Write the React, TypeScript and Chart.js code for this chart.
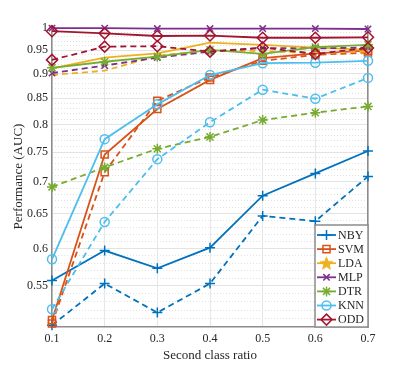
import React, { useEffect, useRef } from 'react';
import { Chart, registerables } from 'chart.js';
import { drawPoint } from 'chart.js/helpers';

Chart.register(...registerables);

// ---------- data ----------
const RATIOS = [0.1, 0.2, 0.3, 0.4, 0.5, 0.6, 0.7];
const X_TICK_LABELS = ['0.1', '0.2', '0.3', '0.4', '0.5', '0.6', '0.7'];
const Y_TICKS = [0.55, 0.6, 0.65, 0.7, 0.75, 0.8, 0.85, 0.9, 0.95, 1];
const Y_TICK_LABELS = ['0.55', '0.6', '0.65', '0.7', '0.75', '0.8', '0.85', '0.9', '0.95', '1'];
const METHODS = ['NBY', 'SVM', 'LDA', 'MLP', 'DTR', 'KNN', 'ODD'];

const NBY_SOLID = [0.557, 0.597, 0.573, 0.601, 0.678, 0.714, 0.752];
const NBY_DASHED = [0.502, 0.553, 0.517, 0.553, 0.647, 0.639, 0.709];
const SVM_SOLID = [0.508, 0.746, 0.829, 0.887, 0.933, 0.943, 0.949];
const SVM_DASHED = [0.504, 0.716, 0.845, 0.892, 0.927, 0.94, 0.945];
const LDA_SOLID = [0.911, 0.934, 0.943, 0.967, 0.962, 0.956, 0.951];
const LDA_DASHED = [0.897, 0.906, 0.938, 0.95, 0.948, 0.944, 0.947];
const MLP_SOLID = [1.0, 1.0, 0.999, 0.999, 0.999, 0.999, 0.998];
const MLP_DASHED = [0.901, 0.917, 0.934, 0.947, 0.955, 0.954, 0.956];
const DTR_SOLID = [0.912, 0.925, 0.936, 0.951, 0.942, 0.957, 0.962];
const DTR_DASHED = [0.692, 0.724, 0.756, 0.777, 0.808, 0.822, 0.834];
const KNN_SOLID = [0.585, 0.773, 0.838, 0.897, 0.922, 0.923, 0.927];
const KNN_DASHED = [0.521, 0.638, 0.738, 0.804, 0.867, 0.849, 0.891];
const ODD_SOLID = [0.993, 0.988, 0.982, 0.983, 0.978, 0.978, 0.979];
const ODD_DASHED = [0.929, 0.958, 0.959, 0.947, 0.956, 0.942, 0.955];

const SOLID = [NBY_SOLID, SVM_SOLID, LDA_SOLID, MLP_SOLID, DTR_SOLID, KNN_SOLID, ODD_SOLID];
const DASHED = [NBY_DASHED, SVM_DASHED, LDA_DASHED, MLP_DASHED, DTR_DASHED, KNN_DASHED, ODD_DASHED];

// ---------- styles ----------
const COLORS = ['#0072BD', '#D95319', '#EDB120', '#7E2F8E', '#77AC30', '#4DBEEE', '#A2142F'];
const RADII = [5, 5, 0, 4.5, 5, 4.5, 5.5];
const FONT = "'Liberation Serif', 'Times New Roman', serif";
const TEXT = '#262626';
const AXIS = '#8c8c8c';

function makeStar(color: string) {
  const c = document.createElement('canvas');
  c.width = 15;
  c.height = 15;
  const g = c.getContext('2d')!;
  g.beginPath();
  for (let i = 0; i < 10; i++) {
    const r = i % 2 === 0 ? 6.6 : 2.8;
    const a = -Math.PI / 2 + (i * Math.PI) / 5;
    g.lineTo(7.5 + r * Math.cos(a), 8 + r * Math.sin(a));
  }
  g.closePath();
  g.fillStyle = color;
  g.fill();
  g.strokeStyle = color;
  g.lineWidth = 1;
  g.stroke();
  return c;
}

export default function App() {
  const ref = useRef<HTMLCanvasElement>(null);

  useEffect(() => {
    document.body.style.margin = '0';
    const star = makeStar(COLORS[2]);
    const styles: any[] = ['cross', 'rect', star, 'crossRot', 'star', 'circle', 'rectRot'];
    const hollow = [false, true, false, false, false, true, true];

    const datasets: any[] = [];
    let k = 0;
    for (let m = 0; m < METHODS.length; m++) {
      for (const dashed of [false, true]) {
        const arr = dashed ? DASHED[m] : SOLID[m];
        datasets.push({
          label: METHODS[m] + (dashed ? ' (dashed)' : ''),
          data: RATIOS.map((x, i) => ({ x, y: arr[i] })),
          borderColor: COLORS[m],
          backgroundColor: COLORS[m],
          borderWidth: 1.8,
          borderDash: dashed ? [6, 4] : [],
          pointStyle: styles[m],
          pointRadius: RADII[m],
          pointBorderWidth: 1.5,
          pointBorderColor: COLORS[m],
          pointBackgroundColor: hollow[m] ? 'rgba(0,0,0,0)' : COLORS[m],
          tension: 0,
          fill: false,
          clip: false,
          order: 100 - k,
        });
        k++;
      }
    }

    const minorTicks: number[] = [];
    for (let i = 51; i <= 100; i++) minorTicks.push(i / 100);

    const legendPlugin = {
      id: 'insideLegend',
      afterDraw(chart: any) {
        const { ctx, chartArea } = chart;
        const w = 53;
        const h = 102;
        const right = chartArea.right;
        const bottom = chartArea.bottom;
        const left = right - w;
        const top = bottom - h;
        ctx.save();
        ctx.fillStyle = '#ffffff';
        ctx.fillRect(left, top, w, h);
        ctx.strokeStyle = AXIS;
        ctx.lineWidth = 1.5;
        ctx.strokeRect(left, top, w, h);
        ctx.font = `12px ${FONT}`;
        ctx.textBaseline = 'middle';
        ctx.textAlign = 'left';
        for (let m = 0; m < METHODS.length; m++) {
          const y = top + 10 + m * 14.1;
          ctx.strokeStyle = COLORS[m];
          ctx.lineWidth = 1.8;
          ctx.setLineDash([]);
          ctx.beginPath();
          ctx.moveTo(left + 2, y);
          ctx.lineTo(left + 21, y);
          ctx.stroke();
          ctx.fillStyle = hollow[m] ? 'rgba(0,0,0,0)' : COLORS[m];
          ctx.lineWidth = 1.5;
          drawPoint(ctx, { pointStyle: styles[m], radius: RADII[m], borderWidth: 1.5, rotation: 0 } as any, left + 11.5, y);
          ctx.fillStyle = TEXT;
          ctx.fillText(METHODS[m], left + 23, y + 0.5);
        }
        ctx.restore();
      },
    };

    const chart = new Chart(ref.current!, {
      type: 'line',
      data: { datasets },
      options: {
        animation: false,
        responsive: false,
        devicePixelRatio: 1,
        layout: { padding: { left: 0, top: 26, right: 39, bottom: 0 } },
        plugins: { legend: { display: false }, tooltip: { enabled: false } },
        scales: {
          x: {
            type: 'linear',
            min: 0.1,
            max: 0.7,
            afterBuildTicks: (s: any) => {
              s.ticks = RATIOS.map((v) => ({ value: v }));
            },
            afterFit: (s: any) => {
              s.height = 41;
            },
            ticks: {
              callback: (_v: any, i: number) => X_TICK_LABELS[i],
              font: { family: FONT, size: 12 },
              color: TEXT,
              padding: 5,
              maxRotation: 0,
              autoSkip: false,
            },
            grid: { color: '#e6e6e6', lineWidth: 1, drawTicks: false },
            border: { color: AXIS, width: 1.5 },
            title: {
              display: true,
              text: 'Second class ratio',
              font: { family: FONT, size: 13 },
              color: TEXT,
              padding: { top: 0, bottom: 5 },
            },
          },
          yMinor: {
            type: 'logarithmic',
            position: 'left',
            min: 0.5,
            max: 1.005,
            afterBuildTicks: (s: any) => {
              s.ticks = minorTicks.map((v) => ({ value: v }));
            },
            afterFit: (s: any) => {
              s.width = 0;
            },
            ticks: { display: false },
            grid: {
              color: '#e2e2e2',
              lineWidth: 1,
              drawTicks: false,
            },
            border: { display: false, dash: [1, 2] },
          },
          y: {
            type: 'logarithmic',
            position: 'left',
            min: 0.5,
            max: 1.005,
            afterBuildTicks: (s: any) => {
              s.ticks = Y_TICKS.map((v) => ({ value: v }));
            },
            afterFit: (s: any) => {
              s.width = 52;
            },
            ticks: {
              callback: (_v: any, i: number) => Y_TICK_LABELS[i],
              font: { family: FONT, size: 12 },
              color: TEXT,
              padding: 4,
              autoSkip: false,
            },
            grid: { color: '#e3e3e3', lineWidth: 1, drawTicks: false },
            border: { color: AXIS, width: 1.5 },
            title: {
              display: true,
              text: 'Performance (AUC)',
              font: { family: FONT, size: 13 },
              color: TEXT,
              padding: { top: 11, bottom: 0 },
            },
          },
          yR: {
            type: 'logarithmic',
            position: 'right',
            min: 0.5,
            max: 1.005,
            afterFit: (s: any) => {
              s.width = 0;
            },
            ticks: { display: false },
            grid: { display: false, drawTicks: false },
            border: { display: true, color: AXIS, width: 1.5 },
          },
        },
      } as any,
      plugins: [legendPlugin],
    });

    return () => chart.destroy();
  }, []);

  return <canvas ref={ref} width={407} height={368} style={{ display: 'block' }} />;
}
